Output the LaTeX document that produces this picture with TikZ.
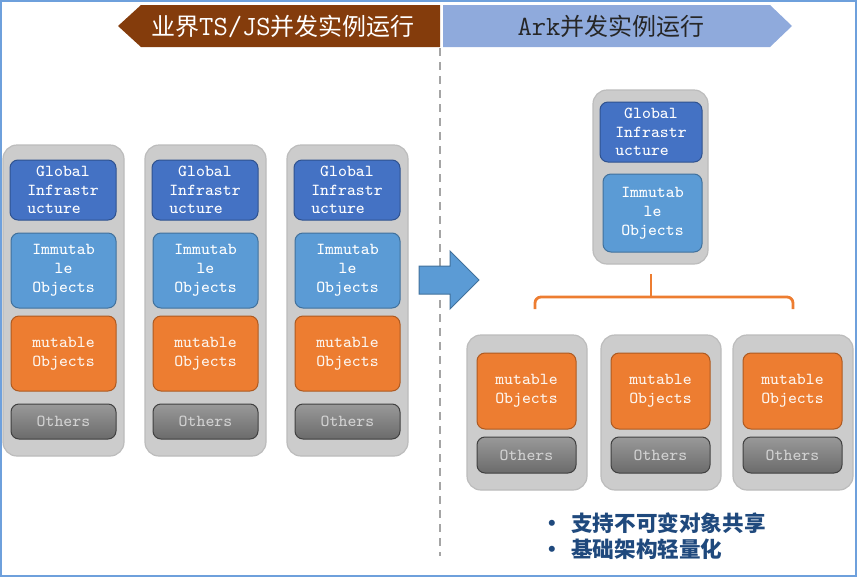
\documentclass[tikz,border=0pt]{standalone}
\usepackage{fontspec}
\usepackage{tikz}
\usetikzlibrary{positioning, calc}
\newfontfamily\cjk{Noto Sans CJK SC}
\newcommand\codefont{\ttfamily}
\definecolor{hwframe}{RGB}{110,160,220}
\definecolor{hwbrown}{RGB}{132,60,12}
\definecolor{hwlblue}{RGB}{143,170,220}
\definecolor{hwcol}{RGB}{204,204,204}
\definecolor{hwcolline}{RGB}{188,188,188}
\definecolor{hwglobal}{RGB}{68,114,196}
\definecolor{hwgloballine}{RGB}{47,82,143}
\definecolor{hwimm}{RGB}{91,155,213}
\definecolor{hwimmline}{RGB}{65,113,156}
\definecolor{hworange}{RGB}{237,125,49}
\definecolor{hworangeline}{RGB}{174,90,33}
\definecolor{hwtext}{RGB}{31,73,125}
\definecolor{hwdash}{RGB}{165,165,165}
\tikzset{
  column/.style={rectangle, draw=hwcolline, fill=hwcol,
    rounded corners=7pt, line width=0.6pt},
  inbox/.style={rectangle, rounded corners=4pt, line width=0.5pt,
    font=\codefont\fontsize{8.4}{9.4}\selectfont, align=center, inner sep=0pt},
  globalbox/.style={inbox, draw=hwgloballine, fill=hwglobal, text=white},
  immbox/.style={inbox, draw=hwimmline, fill=hwimm, text=white},
  mutbox/.style={inbox, draw=hworangeline, fill=hworange, text=white!92!hworange},
  otherbox/.style={inbox, draw=black!75, top color=black!40, bottom color=black!58,
    text=black!18},
  title/.style={font=\cjk\fontsize{12}{14}\selectfont, inner sep=0pt},
  bullet/.style={font=\cjk\bfseries\fontsize{10.8}{13}\selectfont, text=hwtext,
    anchor=west, inner sep=0pt},
  bracket/.style={hworange, line width=1.4pt, rounded corners=3pt}
}
\begin{document}
\begin{tikzpicture}[x=0.5pt, y=-0.5pt]
  \useasboundingbox (0,0) rectangle (858,579);
  % outer frame
  \draw[hwframe, line width=1pt] (1,1) rectangle (856,576);
  % banners
  \fill[hwbrown] (118,26) -- (141,5) -- (440,5) -- (440,47) -- (141,47) -- cycle;
  \node[title, text=white] (lefttitle) at (283,26)
    {业界{\codefont\fontsize{13.9}{14}\selectfont TS/JS}并发实例运行};
  \fill[hwlblue] (443,5) -- (770,5) -- (792,26) -- (770,47) -- (443,47) -- cycle;
  \node[title, text=black!85] (righttitle) at (611,26)
    {{\codefont\fontsize{13.9}{14}\selectfont Ark}并发实例运行};
  % divider
  \draw[hwdash, line width=0.8pt, dash pattern=on 4pt off 3pt] (440,48) -- (440,556);
  % existing TS/JS instances
  \foreach \i/\x in {1/3, 2/145, 3/287} {
    \node[column, minimum width=60.5pt, minimum height=155.5pt] (col\i) at (\x+60.5,300.5) {};
    \node[globalbox, minimum width=53pt, minimum height=30pt] (glob\i) at (\x+60,190)
      {Global\\Infrastr\\ucture\phantom{xx}};
    \node[immbox, minimum width=52.5pt, minimum height=37.5pt] (imm\i) at (\x+60.5,270.5)
      {Immutab\\le\\Objects};
    \node[mutbox, minimum width=52.5pt, minimum height=37.5pt] (mut\i) at (\x+60.5,353.5)
      {mutable\\Objects};
    \node[otherbox, minimum width=52.5pt, minimum height=17.5pt] (oth\i) at (\x+60.5,421.5)
      {Others};
  }
  % transition arrow
  \draw[fill=hwimm, draw=hwimmline, line width=0.5pt]
    (419,266) -- (450,266) -- (450,251) -- (479,280) -- (450,309) -- (450,294) -- (419,294) -- cycle;
  % shared part
  \node[column, minimum width=57.5pt, minimum height=87pt] (sharedcol) at (650.5,177) {};
  \node[globalbox, minimum width=51pt, minimum height=30pt] (sharedglob) at (651,132)
    {Global\\Infrastr\\ucture\phantom{xx}};
  \node[immbox, minimum width=49.5pt, minimum height=39pt] (sharedimm) at (652.5,213)
    {Immutab\\le\\Objects};
  % Ark instances
  \foreach \i/\x in {1/467, 2/601, 3/733} {
    \node[column, minimum width=60pt, minimum height=77.5pt] (arkcol\i) at (\x+60,412.5) {};
    \node[mutbox, minimum width=49.5pt, minimum height=38pt] (arkmut\i) at (\x+59.5,391)
      {mutable\\Objects};
    \node[otherbox, minimum width=49.5pt, minimum height=18pt] (arkoth\i) at (\x+59.5,455)
      {Others};
  }
  % bracket
  \coordinate (brtop) at (651,274);
  \coordinate (brmid) at (651,297);
  \coordinate (brleft) at (535,309);
  \coordinate (brright) at (793,309);
  \draw[bracket] (brleft) |- (brmid) -| (brright);
  \draw[bracket] (brtop) -- (brmid);
  % notes
  \node[bullet] (note1) at (541,523) {\makebox[15pt][l]{\textbullet}支持不可变对象共享};
  \node[bullet] (note2) at (541,549) {\makebox[15pt][l]{\textbullet}基础架构轻量化};
\end{tikzpicture}
\end{document}
